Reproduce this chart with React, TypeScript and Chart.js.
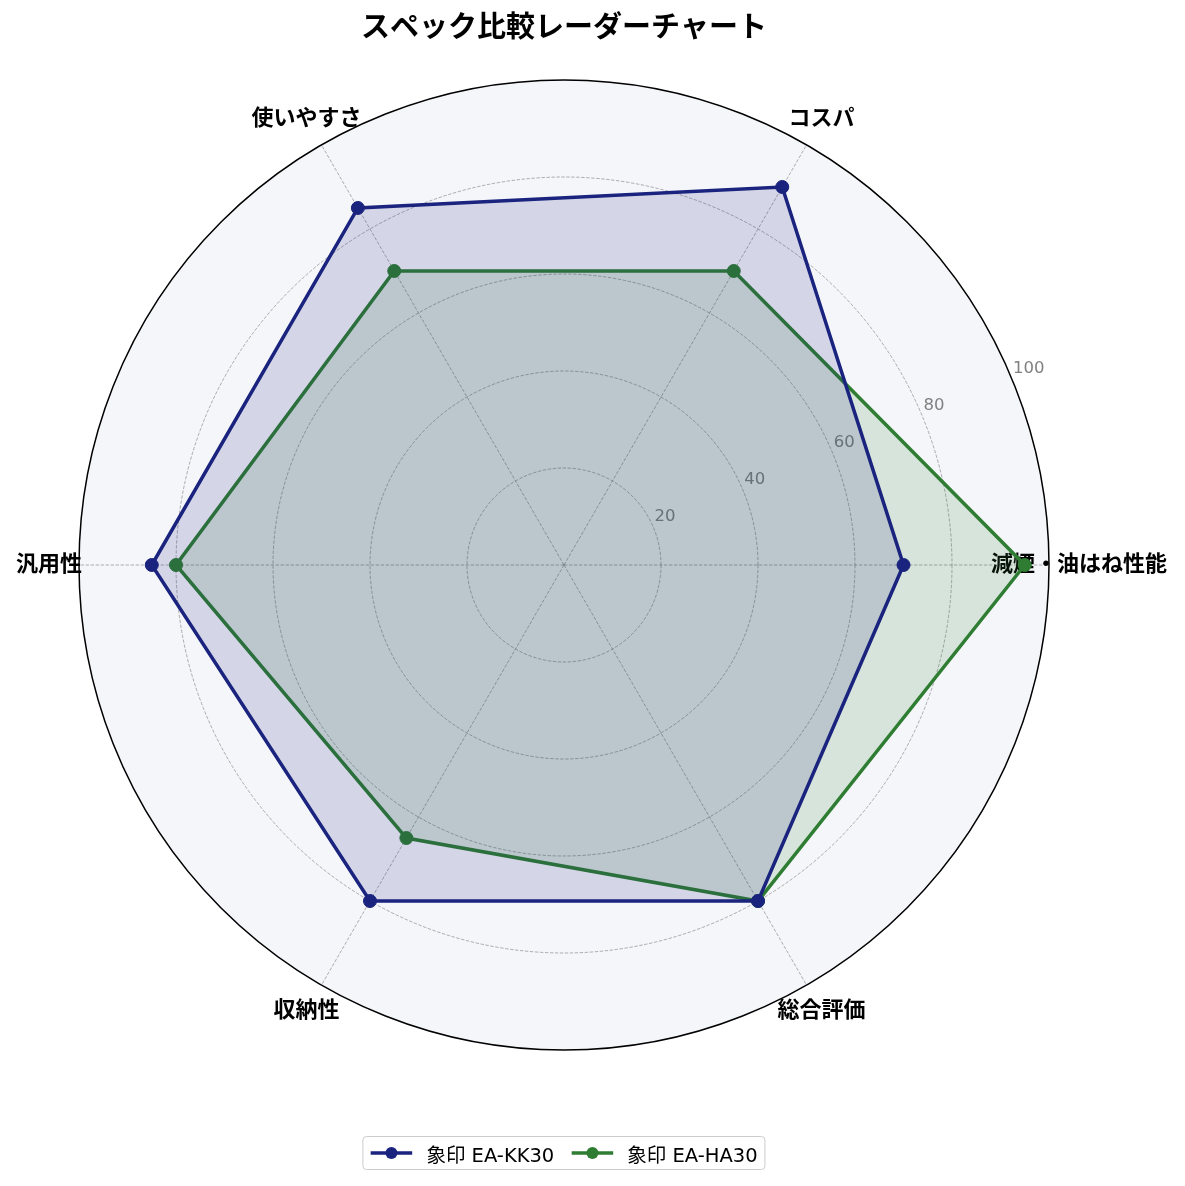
import React, { useEffect, useRef } from 'react';
import { Chart, registerables } from 'chart.js';

Chart.register(...registerables);

// Chart.js walks clockwise from 3 o'clock (startAngle 90), so categories are listed in that order
const categories = ['減煙・油はね性能', '総合評価', '収納性', '汎用性', '使いやすさ', 'コスパ'];
const kk30Scores = [70, 80, 80, 85, 85, 90];
const ha30Scores = [95, 80, 65, 80, 70, 70];
const seriesNames = ['象印 EA-KK30', '象印 EA-HA30'];
const radialTicks = [20, 40, 60, 80, 100];

const NAVY = '#1a237e';
const GREEN = '#2e7d32';
const FONT = '"DejaVu Sans", "Noto Sans CJK JP", sans-serif';

// r tick labels at 22.5deg + centered category labels, like matplotlib's polar axes
const radarTextPlugin = {
    id: 'radarText',
    beforeDatasetsDraw(chart: any) {
        const scale = chart.scales.r;
        const ctx = chart.ctx;
        ctx.save();
        ctx.font = `16.5px ${FONT}`;
        ctx.fillStyle = '#808080';
        ctx.textAlign = 'left';
        ctx.textBaseline = 'middle';
        const a = (22.5 * Math.PI) / 180;
        radialTicks.forEach(v => {
            const d = scale.getDistanceFromCenterForValue(v);
            ctx.fillText(String(v), scale.xCenter + d * Math.cos(a) + 1, scale.yCenter - d * Math.sin(a) - 11);
        });

        ctx.font = `bold 22px ${FONT}`;
        ctx.fillStyle = '#000000';
        ctx.textAlign = 'center';
        categories.forEach((label, i) => {
            const p = scale.getPointPositionForValue(i, 106.2);
            ctx.fillText(label, p.x, p.y);
        });
        ctx.restore();
    }
};

const LegendSwatch: React.FC<{ color: string }> = ({ color }) => (
    <svg width={42} height={14} style={{ display: 'block' }}>
        <line x1={0} y1={7} x2={42} y2={7} stroke={color} strokeWidth={3.5} />
        <circle cx={21} cy={7} r={6} fill={color} />
    </svg>
);

const App: React.FC = () => {
    const chartRef = useRef<HTMLCanvasElement>(null);
    const chartInstanceRef = useRef<Chart | null>(null);

    useEffect(() => {
        if (!chartRef.current) return;
        const ctx = chartRef.current.getContext('2d');
        if (!ctx) return;

        if (chartInstanceRef.current) {
            chartInstanceRef.current.destroy();
        }

        const outer = radialTicks.length; // index of the 100 ring (0 is the centre)

        chartInstanceRef.current = new Chart(ctx, {
            type: 'radar',
            data: {
                labels: categories,
                datasets: [
                    {
                        label: seriesNames[0],
                        data: kk30Scores,
                        borderColor: NAVY,
                        backgroundColor: 'rgba(26, 35, 126, 0.15)',
                        borderWidth: 3.5,
                        pointRadius: 6.5,
                        pointBackgroundColor: NAVY,
                        pointBorderColor: NAVY,
                        pointBorderWidth: 1,
                        fill: true
                    },
                    {
                        label: seriesNames[1],
                        data: ha30Scores,
                        borderColor: GREEN,
                        backgroundColor: 'rgba(46, 125, 50, 0.15)',
                        borderWidth: 3.5,
                        pointRadius: 6.5,
                        pointBackgroundColor: GREEN,
                        pointBorderColor: GREEN,
                        pointBorderWidth: 1,
                        fill: true
                    }
                ]
            },
            options: {
                responsive: false,
                animation: false,
                layout: { padding: { left: 79, right: 136, top: 0, bottom: 136 } },
                plugins: {
                    legend: { display: false },
                    tooltip: { enabled: false },
                    title: {
                        display: true,
                        text: 'スペック比較レーダーチャート',
                        color: '#000000',
                        font: { family: FONT, size: 29, weight: 'bold' },
                        padding: { top: 11.6, bottom: 33.6 }
                    }
                },
                scales: {
                    r: {
                        min: 0,
                        max: 100,
                        startAngle: 90,
                        backgroundColor: '#f5f6fa',
                        ticks: { stepSize: 20, display: false },
                        pointLabels: { display: false },
                        grid: {
                            circular: true,
                            color: (c: any) => (c.index === outer ? '#000000' : 'rgba(128, 128, 128, 0.7)'),
                            lineWidth: (c: any) => (c.index === outer ? 1.5 : 0.9)
                        },
                        border: {
                            dash: (c: any) => (c.index === outer ? [] : [3.4, 1.6])
                        },
                        angleLines: {
                            color: 'rgba(128, 128, 128, 0.7)',
                            lineWidth: 0.9,
                            borderDash: [3.4, 1.6]
                        }
                    }
                }
            } as any,
            plugins: [radarTextPlugin]
        });

        return () => {
            if (chartInstanceRef.current) {
                chartInstanceRef.current.destroy();
                chartInstanceRef.current = null;
            }
        };
    }, []);

    return (
        <div style={{ position: 'absolute', left: 0, top: 0, width: 1185, height: 1186, background: '#ffffff' }}>
            <canvas ref={chartRef} width={1185} height={1186} style={{ display: 'block' }}></canvas>
            <div
                style={{
                    position: 'absolute',
                    left: 564,
                    top: 1136,
                    transform: 'translateX(-50%)',
                    height: 34,
                    boxSizing: 'border-box',
                    display: 'flex',
                    alignItems: 'center',
                    padding: '0 7px',
                    border: '1px solid #cccccc',
                    borderRadius: 4,
                    background: 'rgba(255, 255, 255, 0.8)',
                    fontFamily: FONT,
                    fontSize: 19.5,
                    color: '#000000',
                    whiteSpace: 'nowrap'
                }}
            >
                <LegendSwatch color={NAVY} />
                <span style={{ marginLeft: 14 }}>{seriesNames[0]}</span>
                <span style={{ marginLeft: 17 }}><LegendSwatch color={GREEN} /></span>
                <span style={{ marginLeft: 14 }}>{seriesNames[1]}</span>
            </div>
        </div>
    );
};

export default App;
